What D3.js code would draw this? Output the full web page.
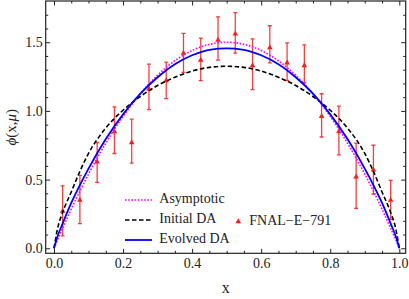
<!DOCTYPE html>
<html>
<head>
<meta charset="utf-8">
<script src="https://cdn.jsdelivr.net/npm/d3@7"></script>
<style>
  body { margin: 0; background: #fff; }
  svg text { font-family: "Liberation Serif", "Times New Roman", serif; }
  .tick text { font-size: 14px; fill: #222; }
  .tick line { stroke: #222; }
</style>
</head>
<body>
<svg width="409" height="299"></svg>
<script>
// sample points for the curves
var curveX = [0, 0.01, 0.025, 0.05, 0.075, 0.1, 0.15, 0.2, 0.25, 0.3, 0.35, 0.4, 0.45, 0.5,
  0.55, 0.6, 0.65, 0.7, 0.75, 0.8, 0.85, 0.9, 0.925, 0.95, 0.975, 0.99, 1];
var asymptotic = [0, 0.06, 0.146, 0.285, 0.416, 0.54, 0.765, 0.96, 1.125, 1.26, 1.365, 1.44, 1.485, 1.5,
  1.485, 1.44, 1.365, 1.26, 1.125, 0.96, 0.765, 0.54, 0.416, 0.285, 0.146, 0.06, 0];
var initialDA = [0, 0.14, 0.26, 0.41, 0.56, 0.69, 0.875, 1.005, 1.105, 1.185, 1.245, 1.29, 1.317, 1.325,
  1.317, 1.29, 1.245, 1.185, 1.105, 1.005, 0.875, 0.69, 0.56, 0.41, 0.26, 0.14, 0];
var evolvedDA = [0, 0.085, 0.18, 0.33, 0.46, 0.58, 0.795, 0.975, 1.125, 1.245, 1.34, 1.405, 1.445, 1.455,
  1.445, 1.405, 1.34, 1.245, 1.125, 0.975, 0.795, 0.58, 0.46, 0.33, 0.18, 0.085, 0];

// FNAL-E-791 points
var dataX  = [0.025, 0.075, 0.125, 0.175, 0.225, 0.275, 0.325, 0.375, 0.425, 0.475,
  0.525, 0.575, 0.625, 0.675, 0.725, 0.775, 0.825, 0.875, 0.925, 0.975];
var dataY  = [0.27, 0.35, 0.63, 0.85, 0.77, 1.16, 1.22, 1.42, 1.37, 1.515,
  1.56, 1.33, 1.46, 1.35, 1.33, 0.96, 0.85, 0.52, 0.57, 0.35];
var dataLo = [0.09, 0.18, 0.48, 0.69, 0.62, 1.01, 1.09, 1.28, 1.22, 1.37,
  1.42, 1.155, 1.35, 1.22, 1.205, 0.81, 0.68, 0.29, 0.395, 0.21];
var dataHi = [0.455, 0.53, 0.77, 1.03, 0.94, 1.34, 1.355, 1.565, 1.53, 1.685,
  1.715, 1.525, 1.62, 1.495, 1.48, 1.125, 1.035, 0.765, 0.75, 0.495];

var xMajor = [0, 0.2, 0.4, 0.6, 0.8, 1.0];
var xMinor = [0.05, 0.1, 0.15, 0.25, 0.3, 0.35, 0.45, 0.5, 0.55, 0.65, 0.7, 0.75, 0.85, 0.9, 0.95];
var yMajor = [0, 0.5, 1.0, 1.5];
var yMinor = [0.1, 0.2, 0.3, 0.4, 0.6, 0.7, 0.8, 0.9, 1.1, 1.2, 1.3, 1.4, 1.6, 1.7];

var svg = d3.select("svg");
var L = 45.7, R = 405.7, T = 1, B = 253.3;
var serif = "Liberation Serif";

var x = d3.scaleLinear().domain([-0.024, 1.0185]).range([L, R]);
var y = d3.scaleLinear().domain([-0.0365, 1.8]).range([B, T]);

var series = [
  {name: "Asymptotic", values: asymptotic, color: "#ff00ff", dash: "1.6,1.6", width: 1.6},
  {name: "Initial DA", values: initialDA, color: "#000", dash: "4.5,2.5", width: 1.6},
  {name: "Evolved DA", values: evolvedDA, color: "#0000ff", dash: null, width: 1.8}
];

var line = d3.line()
  .x(function(d) { return x(d[0]); })
  .y(function(d) { return y(d[1]); })
  .curve(d3.curveMonotoneX);

svg.append("clipPath").attr("id", "clip")
  .append("rect").attr("x", L).attr("y", T).attr("width", R - L).attr("height", B - T);

var plot = svg.append("g").attr("clip-path", "url(#clip)");

//error bars first, curves on top
var red = "#f02020";
var pts = dataX.map(function(v, i) { return {x: v, y: dataY[i], lo: dataLo[i], hi: dataHi[i]}; });

var bars = plot.selectAll(".bar").data(pts).enter().append("g").attr("class", "bar")
  .attr("stroke", red).attr("stroke-width", 1.3).attr("stroke-opacity", 0.85);
bars.append("line")
  .attr("x1", d => x(d.x)).attr("x2", d => x(d.x))
  .attr("y1", d => y(d.lo)).attr("y2", d => y(d.hi));
bars.append("line")
  .attr("x1", d => x(d.x) - 2).attr("x2", d => x(d.x) + 2)
  .attr("y1", d => y(d.lo)).attr("y2", d => y(d.lo));
bars.append("line")
  .attr("x1", d => x(d.x) - 2).attr("x2", d => x(d.x) + 2)
  .attr("y1", d => y(d.hi)).attr("y2", d => y(d.hi));

var tri = d3.symbol().type(d3.symbolTriangle).size(14);
plot.selectAll(".pt").data(pts).enter().append("path")
  .attr("class", "pt")
  .attr("d", tri)
  .attr("fill", red)
  .attr("transform", d => "translate(" + x(d.x) + "," + y(d.y) + ")");

series.forEach(function(s) {
  plot.append("path")
    .datum(curveX.map((v, i) => [v, s.values[i]]))
    .attr("fill", "none")
    .attr("stroke", s.color)
    .attr("stroke-width", s.width)
    .attr("stroke-dasharray", s.dash)
    .attr("d", line);
});

// axes: ticks point inward on all four sides
function ticks(axis, vals, size, labels) {
  return axis.tickValues(vals).tickSize(-size).tickPadding(labels ? 4.5 : 0)
    .tickFormat(labels ? d3.format(".1f") : "");
}
function addAxis(transform, axis) {
  var g = svg.append("g").attr("transform", transform).call(axis);
  g.select(".domain").remove();
  g.attr("font-family", serif).attr("font-size", 14);
  return g;
}

addAxis("translate(0," + B + ")", ticks(d3.axisBottom(x), xMajor, 4.5, true));
addAxis("translate(0," + B + ")", ticks(d3.axisBottom(x), xMinor, 2.5, false));
addAxis("translate(0," + T + ")", ticks(d3.axisTop(x), xMajor, 4.5, false));
addAxis("translate(0," + T + ")", ticks(d3.axisTop(x), xMinor, 2.5, false));
addAxis("translate(" + L + ",0)", ticks(d3.axisLeft(y), yMajor, 4.5, true).tickPadding(3));
addAxis("translate(" + L + ",0)", ticks(d3.axisLeft(y), yMinor, 2.5, false));
addAxis("translate(" + R + ",0)", ticks(d3.axisRight(y), yMajor, 4.5, false));
addAxis("translate(" + R + ",0)", ticks(d3.axisRight(y), yMinor, 2.5, false));

svg.append("rect")
  .attr("x", L).attr("y", T).attr("width", R - L).attr("height", B - T)
  .attr("fill", "none").attr("stroke", "#222").attr("stroke-width", 1.2);

// axis titles
svg.append("text")
  .attr("x", (L + R) / 2).attr("y", 293)
  .attr("text-anchor", "middle").attr("font-family", serif).attr("font-size", 16).attr("fill", "#222")
  .text("x");

var yl = svg.append("text")
  .attr("transform", "translate(16," + (T + B) / 2 + ") rotate(-90)")
  .attr("text-anchor", "middle").attr("font-family", serif).attr("font-size", 15).attr("fill", "#222");
yl.append("tspan").attr("font-style", "italic").text("ϕ");
yl.append("tspan").text("(x,");
yl.append("tspan").attr("font-style", "italic").text("μ");
yl.append("tspan").text(")");

//Legend
var legend = svg.append("g").attr("font-family", serif).attr("font-size", 14).attr("fill", "#222");
series.forEach(function(s, i) {
  var ly = 200 + i * 20;
  legend.append("line")
    .attr("x1", 125).attr("x2", 152).attr("y1", ly).attr("y2", ly)
    .attr("stroke", s.color).attr("stroke-width", s.width).attr("stroke-dasharray", s.dash);
  legend.append("text").attr("x", 159.3).attr("y", ly - 1.5).attr("dy", "0.33em").text(s.name);
});
legend.append("path")
  .attr("d", tri).attr("fill", red)
  .attr("transform", "translate(238.3,221.5)");
legend.append("text").attr("x", 249.3).attr("y", 220.5).attr("dy", "0.33em").text("FNAL−E−791");
</script>
</body>
</html>
